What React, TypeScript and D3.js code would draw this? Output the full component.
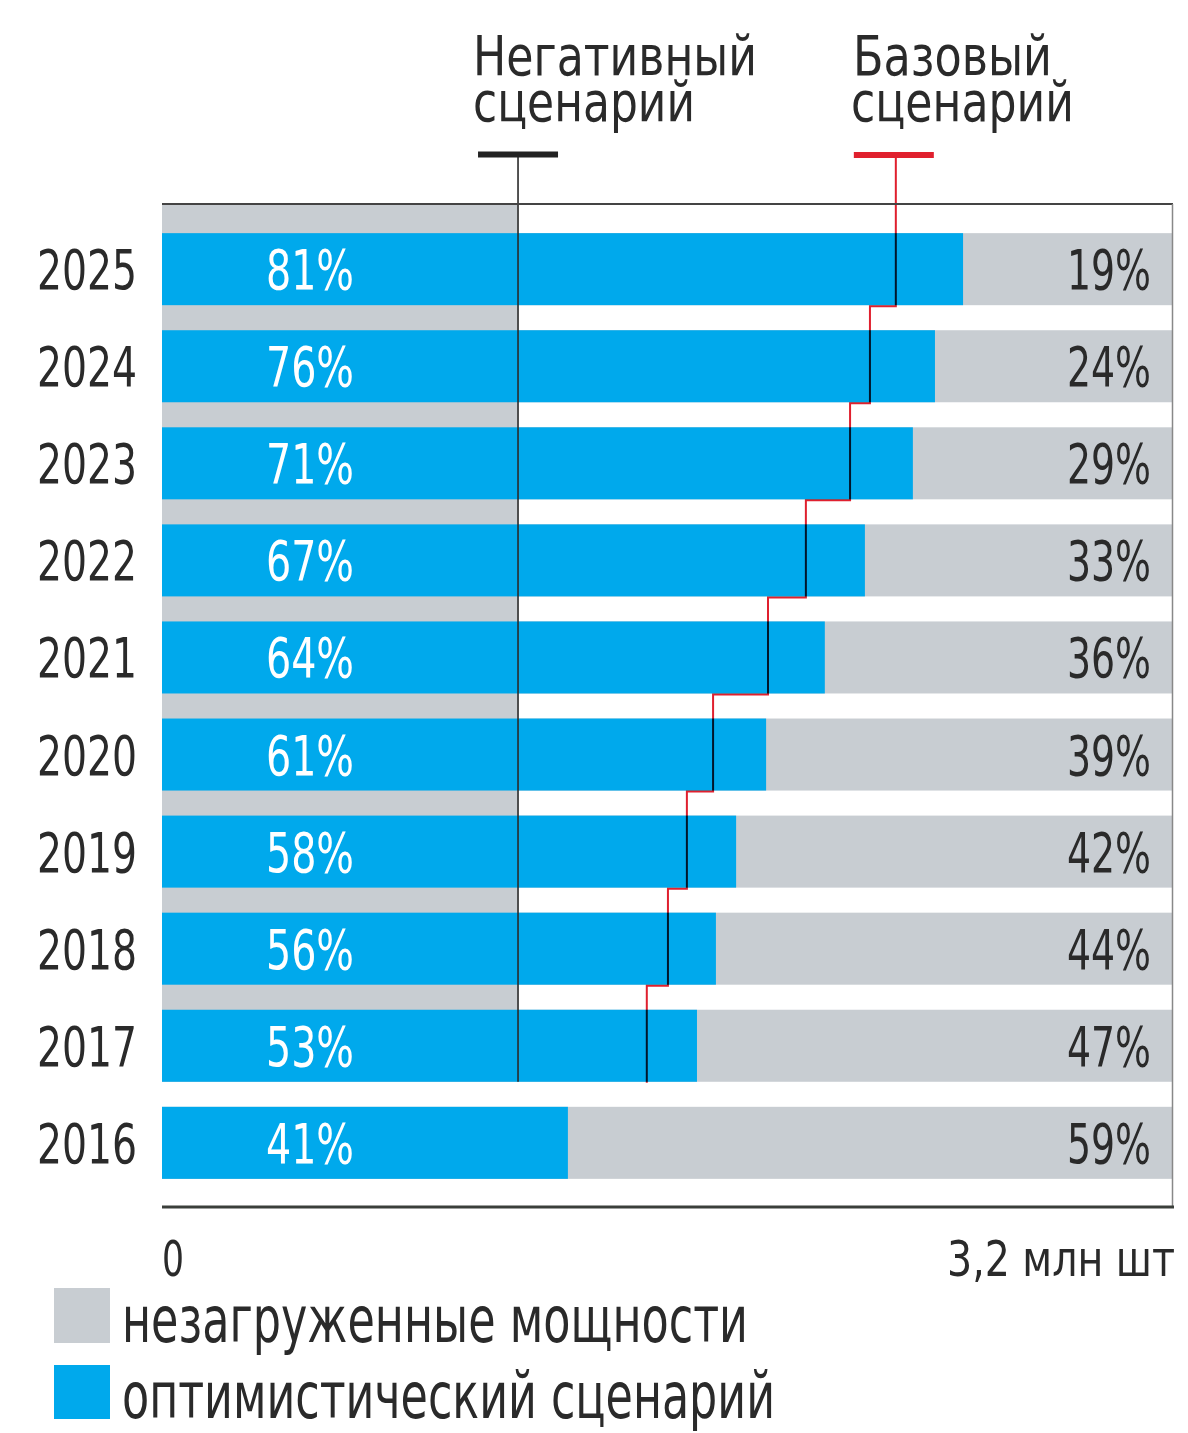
import React from "react";
import * as d3 from "d3";

const years = ["2025", "2024", "2023", "2022", "2021", "2020", "2019", "2018", "2017", "2016"];
// optimistic scenario output, mln units (bar length)
const optimistic = [2.538, 2.449, 2.379, 2.227, 2.1, 1.914, 1.819, 1.755, 1.695, 1.286];
const loadPct = [81, 76, 71, 67, 64, 61, 58, 56, 53, 41];
const idlePct = [19, 24, 29, 33, 36, 39, 42, 44, 47, 59];
// base scenario (step line), years 2025..2017
const baseYears = ["2025", "2024", "2023", "2022", "2021", "2020", "2019", "2018", "2017"];
const baseValues = [2.325, 2.243, 2.18, 2.04, 1.92, 1.746, 1.663, 1.603, 1.536];
// negative scenario level and years it covers
const negativeValue = 1.128;
const negativeYears = ["2025", "2017"];
const capacityMax = 3.2;
const axisLabels = ["0", "3,2 млн шт"];
const legendLabels = ["незагруженные мощности", "оптимистический сценарий"];
const headingNeg = ["Негативный", "сценарий"];
const headingBase = ["Базовый", "сценарий"];

const BLUE = "#00a9ec";
const GRAY = "#c8cdd2";
const TEXT = "#2a2a2a";
const FONT = "'Liberation Sans Narrow', 'DejaVu Sans Condensed', 'Arial Narrow', sans-serif";

export default function App() {
  const W = 1188, H = 1433;
  const x = d3.scaleLinear().domain([0, capacityMax]).range([162, 1172]);
  const y = d3.scaleBand<string>().domain(years).range([205, 1207]).paddingInner(0.258).paddingOuter(0.29);
  const bw = y.bandwidth();

  // base scenario step path
  const pts: [number, number][] = [];
  pts.push([x(baseValues[0]), 158]);
  baseYears.forEach((yr, i) => {
    const bottom = (y(yr) as number) + bw + 1;
    pts.push([x(baseValues[i]), bottom]);
    if (i < baseYears.length - 1) pts.push([x(baseValues[i + 1]), bottom]);
  });
  const basePath = d3.line()(pts) as string;

  const negX = x(negativeValue);
  const negBottom = (y(negativeYears[1]) as number) + bw;
  const baseX = x(baseValues[0]);

  return (
    <svg width={W} height={H} style={{ position: "absolute", left: 0, top: 0, background: "#fff" }} fontFamily={FONT}>
      {/* negative scenario band */}
      <rect x={x(0)} y={205} width={negX - x(0)} height={negBottom - 205} fill={GRAY} />
      {/* bars */}
      {years.map((yr, i) => {
        const yy = y(yr) as number;
        const cy = yy + bw / 2;
        return (
          <g key={yr}>
            <rect x={x(0)} y={yy} width={x(capacityMax) - x(0)} height={bw} fill={GRAY} />
            <rect x={x(0)} y={yy} width={x(optimistic[i]) - x(0)} height={bw} fill={BLUE} />
            <text x={137} y={cy + 20} textAnchor="end" fontSize={56} fill={TEXT} textLength={100} lengthAdjust="spacingAndGlyphs">{yr}</text>
            <text x={266} y={cy + 20} fontSize={56} fill="#fff" textLength={88} lengthAdjust="spacingAndGlyphs">{loadPct[i]}%</text>
            <text x={1151} y={cy + 20} textAnchor="end" fontSize={56} fill={TEXT} textLength={84} lengthAdjust="spacingAndGlyphs">{idlePct[i]}%</text>
          </g>
        );
      })}
      {/* negative scenario line */}
      <line x1={negX} x2={negX} y1={157} y2={negBottom} stroke="#2a2a2a" strokeWidth={1.6} />
      <line x1={negX - 40} x2={negX + 40} y1={154.5} y2={154.5} stroke="#222" strokeWidth={6} />
      {/* base scenario line */}
      <path d={basePath} fill="none" stroke="#e0202e" strokeWidth={2} style={{ mixBlendMode: "multiply" }} />
      <line x1={baseX - 42} x2={baseX + 38} y1={155} y2={155} stroke="#e0202e" strokeWidth={6} />
      {/* frame */}
      <line x1={162} x2={1173} y1={204} y2={204} stroke="#444" strokeWidth={2} />
      <line x1={1172.5} x2={1172.5} y1={204} y2={1207} stroke="#888" strokeWidth={1.5} />
      <line x1={162} x2={1174} y1={1207} y2={1207} stroke="#3a3f3a" strokeWidth={3} />
      {/* axis labels */}
      <text x={x(0)} y={1276} fontSize={50} fill={TEXT} textLength={22} lengthAdjust="spacingAndGlyphs">{axisLabels[0]}</text>
      <text x={1175} y={1276} textAnchor="end" fontSize={50} fill={TEXT} textLength={228} lengthAdjust="spacingAndGlyphs">{axisLabels[1]}</text>
      {/* headings */}
      <text x={473} y={75} fontSize={55} fill={TEXT} textLength={284} lengthAdjust="spacingAndGlyphs">{headingNeg[0]}</text>
      <text x={473} y={121} fontSize={55} fill={TEXT} textLength={222} lengthAdjust="spacingAndGlyphs">{headingNeg[1]}</text>
      <text x={853} y={75} fontSize={55} fill={TEXT} textLength={199} lengthAdjust="spacingAndGlyphs">{headingBase[0]}</text>
      <text x={851} y={121} fontSize={55} fill={TEXT} textLength={223} lengthAdjust="spacingAndGlyphs">{headingBase[1]}</text>
      {/* legend */}
      <rect x={54} y={1288} width={56} height={55} fill={GRAY} />
      <text x={122} y={1342} fontSize={64} fill={TEXT} textLength={626} lengthAdjust="spacingAndGlyphs">{legendLabels[0]}</text>
      <rect x={54} y={1365} width={56} height={54} fill={BLUE} />
      <text x={122} y={1418} fontSize={64} fill={TEXT} textLength={653} lengthAdjust="spacingAndGlyphs">{legendLabels[1]}</text>
    </svg>
  );
}
